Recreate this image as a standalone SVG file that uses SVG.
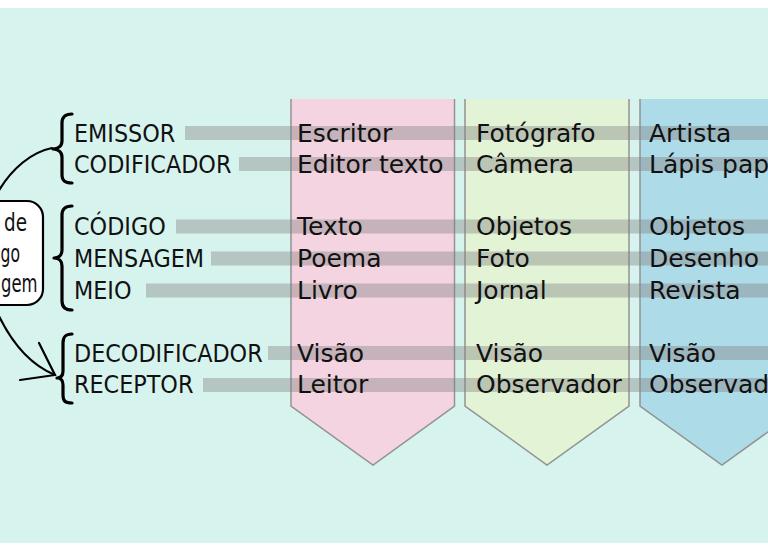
<svg xmlns="http://www.w3.org/2000/svg" width="768" height="552" viewBox="0 0 768 552">
<style>
.lbl{font-family:"DejaVu Sans Condensed","DejaVu Sans",sans-serif;font-stretch:condensed;font-size:24.8px;fill:#111}
.val{font-family:"DejaVu Sans",sans-serif;font-size:25px;fill:#111}
.box{font-family:"DejaVu Sans Condensed","DejaVu Sans",sans-serif;font-stretch:condensed;font-size:24px;fill:#111}
.bar{fill:#808080;fill-opacity:0.4}
.col{stroke:none}
.edge{fill:none;stroke:#939393;stroke-width:1.5}
.brace{fill:none;stroke:#000;stroke-width:3.2;stroke-linecap:round;stroke-linejoin:round}
.conn{fill:none;stroke:#000;stroke-width:2.2;stroke-linecap:round}
</style>
<rect x="0" y="0" width="768" height="552" fill="#ffffff"/>
<rect x="0" y="8" width="768" height="535" fill="#d7f3ee"/>

<g id="col-escrita">
<polygon class="col" fill="#f5d4e1" points="291,99 454.5,99 454.5,406 373,465 291,406"/>
<path class="edge" d="M291,99 V406 L373,465 L454.5,406 V99"/>
</g>
<g id="col-foto">
<polygon class="col" fill="#e3f3d6" points="465,99 629,99 629,406 547,465 465,406"/>
<path class="edge" d="M465,99 V406 L547,465 L629,406 V99"/>
</g>
<g id="col-desenho">
<polygon class="col" fill="#addbe8" points="640,99 804,99 804,406 722,465 640,406"/>
<path class="edge" d="M640,99 V406 L722,465 L804,406 V99"/>
</g>

<g id="bars">
<rect class="bar" x="185" y="126" width="583" height="14"/>
<rect class="bar" x="239" y="157" width="529" height="14"/>
<rect class="bar" x="176" y="219.5" width="592" height="14"/>
<rect class="bar" x="211" y="251.5" width="557" height="14"/>
<rect class="bar" x="146" y="283.5" width="622" height="14"/>
<rect class="bar" x="268" y="346" width="500" height="14"/>
<rect class="bar" x="203" y="378" width="565" height="14"/>
</g>

<g id="labels">
<text class="lbl" x="74" y="141.5">EMISSOR</text>
<text class="lbl" x="74" y="172.5">CODIFICADOR</text>
<text class="lbl" x="74" y="235">CÓDIGO</text>
<text class="lbl" x="74" y="267">MENSAGEM</text>
<text class="lbl" x="74" y="299">MEIO</text>
<text class="lbl" x="74" y="361.5">DECODIFICADOR</text>
<text class="lbl" x="74" y="393">RECEPTOR</text>
</g>

<g id="values-escrita">
<text class="val" x="297" y="141.5">Escritor</text>
<text class="val" x="297" y="172.5">Editor texto</text>
<text class="val" x="297" y="235">Texto</text>
<text class="val" x="297" y="267">Poema</text>
<text class="val" x="297" y="299">Livro</text>
<text class="val" x="297" y="361.5">Visão</text>
<text class="val" x="297" y="393">Leitor</text>
</g>
<g id="values-foto">
<text class="val" x="476" y="141.5">Fotógrafo</text>
<text class="val" x="476" y="172.5">Câmera</text>
<text class="val" x="476" y="235">Objetos</text>
<text class="val" x="476" y="267">Foto</text>
<text class="val" x="476" y="299">Jornal</text>
<text class="val" x="476" y="361.5">Visão</text>
<text class="val" x="476" y="393">Observador</text>
</g>
<g id="values-desenho">
<text class="val" x="649" y="141.5">Artista</text>
<text class="val" x="649" y="172.5">Lápis pap</text>
<text class="val" x="649" y="235">Objetos</text>
<text class="val" x="649" y="267">Desenho</text>
<text class="val" x="649" y="299">Revista</text>
<text class="val" x="649" y="361.5">Visão</text>
<text class="val" x="649" y="393">Observad</text>
</g>

<g id="connectors">
<path class="conn" d="M52,148 C32,152 12,168 -2,192"/>
<path class="conn" d="M-3,312 C10,340 28,364 55,375"/>
<path class="conn" d="M39,343 L55,375 L20,380"/>
</g>

<g id="box-modelo">
<rect x="-30" y="201" width="73" height="104" rx="16" fill="#ffffff" stroke="#000" stroke-width="2.2"/>
<text class="box" x="4" y="231" textLength="23" lengthAdjust="spacingAndGlyphs">de</text>
<text class="box" x="0.5" y="262" textLength="19.5" lengthAdjust="spacingAndGlyphs">go</text>
<text class="box" x="1" y="292" textLength="36.5" lengthAdjust="spacingAndGlyphs">gem</text>
</g>

<g id="braces">
<path class="brace" d="M72,114 C65,114 62,117 62,123 L62,141 C62,146 58,149 53,149 C58,149 62,152 62,157 L62,175 C62,181 65,183 72,183"/>
<path class="brace" d="M72,206 C65,206 62,209 62,215 L62,250 C62,255 59,258 54,258 C59,258 62,261 62,266 L62,301 C62,307 65,310 72,310"/>
<path class="brace" d="M72,334 C65,334 63,337 63,343 L63,371 C63,376 61,378 57,378 C61,378 63,380 63,385 L63,395 C63,401 65,403 72,403"/>
</g>
</svg>
